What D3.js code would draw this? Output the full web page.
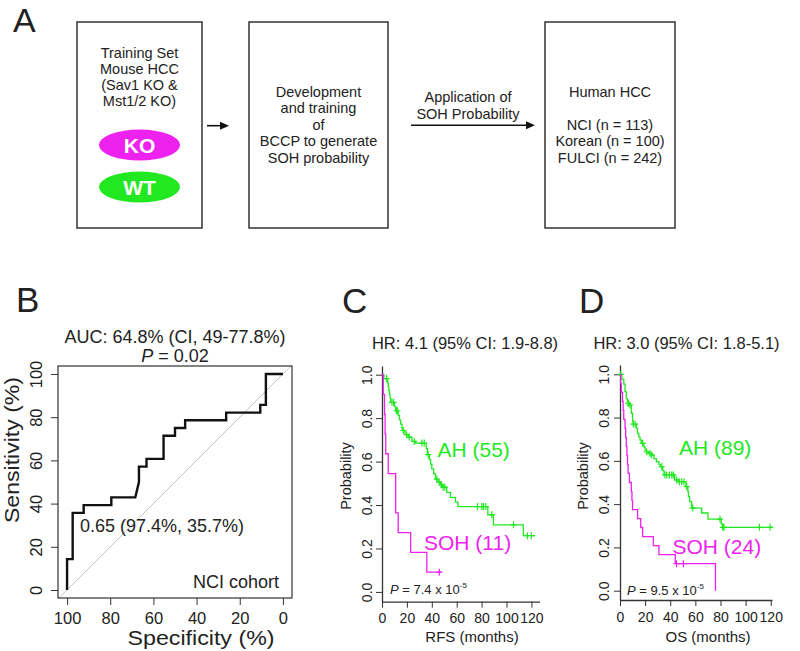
<!DOCTYPE html>
<html><head><meta charset="utf-8">
<script src="https://cdn.jsdelivr.net/npm/d3@7"></script>
<style>body{margin:0;background:#fff}svg{display:block;font-family:"Liberation Sans",Arial,Helvetica,sans-serif}</style>
</head><body><svg id="c" width="800" height="651"></svg>
<script>
// ---------- DATA ----------
const trainLines = ["Training Set","Mouse HCC","(Sav1 KO &","Mst1/2 KO)"];
const groupLabels = ["KO","WT"];
const devLines = ["Development","and training","of","BCCP to generate","SOH probability"];
const arrowLabel = ["Application of","SOH Probability"];
const humanLines = ["Human HCC","","NCI (n = 113)","Korean (n = 100)","FULCI (n = 242)"];

// ROC (specificity %, sensitivity %)
const rocSpec = [100,100,97.4,97.4,92.3,92.3,79.5,79.5,68.4,66.7,66.7,63.2,63.2,55.3,55.3,50,50,45.3,45.3,26.3,26.3,10.5,10.5,7.9,7.9,0];
const rocSens = [0,14.3,14.3,35.7,35.7,39.3,39.3,42.9,42.9,50,57.1,57.1,60.7,60.7,71.4,71.4,75,75,78.6,78.6,82.1,82.1,85.7,85.7,100,100];
const rocTicks = [100,80,60,40,20,0];
const rocTitle = "AUC: 64.8% (CI, 49-77.8%)";
const rocP = "0.02";
const rocCut = "0.65 (97.4%, 35.7%)";
const rocCohort = "NCI cohort";

// Kaplan-Meier: [time (months), survival after drop]
const rfsAH = [[0,1],[1.5,0.982],[4.5,0.964],[5,0.945],[5.5,0.927],[6,0.909],[6.5,0.891],[7,0.873],[10,0.854],[11,0.834],[13,0.813],[14,0.792],[15,0.772],[16,0.754],[16.5,0.743],[18.5,0.724],[21,0.713],[24,0.693],[27,0.685],[35.5,0.66],[36.5,0.632],[38,0.61],[39,0.588],[40,0.566],[41.5,0.543],[43,0.519],[45,0.505],[47,0.493],[48.5,0.482],[52,0.458],[55,0.435],[59,0.413],[61,0.393],[85,0.355],[89.5,0.309],[113.5,0.259]];
const rfsAHEnd = 123;
const rfsAHCens = [3.7,8,9.3,11.5,12.5,17.1,19.8,21.9,25.9,32,33.9,37.1,44,45.9,47.8,49.1,50.5,76.7,80.2,81.5,83.4,88.2,105.6,116.8,120];
const rfsSOH = [[0,1],[1,0.909],[2,0.818],[2.5,0.727],[3,0.636],[5,0.545],[11,0.364],[13,0.273],[23,0.182],[36,0.091]];
const rfsSOHEnd = 48;
const rfsSOHCens = [46];

const osAH = [[0,1],[1.5,0.978],[3,0.955],[4,0.92],[5,0.888],[6,0.866],[7.5,0.858],[9,0.82],[10,0.785],[10.5,0.77],[13,0.75],[14,0.727],[15,0.71],[16,0.696],[17,0.681],[19,0.665],[20,0.65],[21,0.642],[23,0.634],[25,0.627],[27,0.61],[29,0.596],[31,0.584],[32,0.573],[34,0.555],[35,0.535],[43.5,0.512],[46.5,0.504],[52.5,0.481],[54,0.458],[54.5,0.435],[55.5,0.412],[57,0.382],[65,0.359],[70,0.331],[80.5,0.31],[81.5,0.293]];
const osAHEnd = 122;
const osAHCens = [0.6,6.6,7.9,10.6,12,18,21.2,23.9,25.2,33.2,35.8,37.2,39.3,41.2,42.5,45.1,47.2,49.1,50.9,53.1,57.9,79.6,81.8,82.8,111,119.5];
const osSOH = [[0,1],[0.5,0.958],[1,0.917],[2,0.875],[2.5,0.833],[3,0.792],[4,0.75],[4.5,0.708],[5,0.667],[5.5,0.625],[6,0.583],[6.5,0.542],[7.5,0.5],[9,0.458],[9.5,0.417],[10,0.375],[14,0.333],[16.5,0.292],[18,0.25],[26.5,0.208],[31,0.167],[44,0.125],[76,0]];
const osSOHEnd = 76;
const osSOHCens = [45,50.5];

const kmXTicks = [0,20,40,60,80,100,120];
const kmYTicks = [0,0.2,0.4,0.6,0.8,1.0];
const hrC = "HR: 4.1 (95% CI: 1.9-8.8)";
const hrD = "HR: 3.0 (95% CI: 1.8-5.1)";
const pC = "7.4", pD = "9.5";
const labelsC = ["AH (55)","SOH (11)"];
const labelsD = ["AH (89)","SOH (24)"];

// ---------- DRAW ----------
const MAG = "#ee22ee", GRN = "#22e822", INK = "#222";
const svg = d3.select("#c");
svg.append("rect").attr("width",800).attr("height",651).attr("fill","#fff");

function txt(x,y,s,size,anchor,fill){
  return svg.append("text").attr("x",x).attr("y",y).attr("font-size",size)
    .attr("text-anchor",anchor||"start").attr("fill",fill||INK).text(s);
}
function lines(arr,cx,y0,dy,size){
  arr.forEach((s,i)=>{ if(s) txt(cx,y0+i*dy,s,size,"middle"); });
}

// panel letters
txt(13,32,"A",34); txt(16,312,"B",35); txt(342,313,"C",35); txt(579,313,"D",35);

// ---- Panel A ----
[[77,22,202,228],[249,22,388,228],[545,22,675,228]].forEach(b=>{
  svg.append("rect").attr("x",b[0]).attr("y",b[1]).attr("width",b[2]-b[0]).attr("height",b[3]-b[1])
    .attr("fill","none").attr("stroke","#333").attr("stroke-width",1.5);
});
lines(trainLines,139.5,57.5,16.3,14.5);
lines(devLines,318.5,97,16.4,14.5);
lines(humanLines,610,97,16.4,14.5);
lines(arrowLabel,468,102,16.5,14.5);
[[145,MAG],[187,GRN]].forEach((e,i)=>{
  svg.append("ellipse").attr("cx",139.5).attr("cy",e[0]).attr("rx",40.5).attr("ry",15.5).attr("fill",e[1]);
  txt(139.5,e[0]+7.5,groupLabels[i],21,"middle","#fff").attr("font-weight","bold");
});
function arrow(x0,x1,y){
  svg.append("line").attr("x1",x0).attr("x2",x1-6).attr("y1",y).attr("y2",y).attr("stroke","#111").attr("stroke-width",1.6);
  svg.append("path").attr("d",`M${x1},${y}L${x1-9},${y-4}L${x1-9},${y+4}Z`).attr("fill","#111");
}
arrow(207,229,125.7);
arrow(411,535,125.3);

// ---- Panel B ----
const bx = d3.scaleLinear().domain([104.2,-4.2]).range([58,292]);
const by = d3.scaleLinear().domain([-3.7,103.7]).range([598,366]);
svg.append("line").attr("x1",bx(103.7)).attr("y1",by(-3.7)).attr("x2",bx(-3.7)).attr("y2",by(103.7))
  .attr("stroke","#c4c4c4").attr("stroke-width",1);
svg.append("rect").attr("x",58).attr("y",366).attr("width",234).attr("height",232)
  .attr("fill","none").attr("stroke","#333").attr("stroke-width",1.2);
const gbx = svg.append("g").attr("transform","translate(0,598)")
  .call(d3.axisBottom(bx).tickValues(rocTicks).tickSize(7).tickFormat(d3.format("d")));
gbx.select(".domain").remove();
gbx.selectAll("text").attr("dy",null).attr("y",26).attr("font-size",16.5).attr("font-family",null).attr("fill",INK);
gbx.selectAll("line").attr("stroke","#333");
const gby = svg.append("g").attr("transform","translate(58,0)")
  .call(d3.axisLeft(by).tickValues(rocTicks).tickSize(7).tickFormat(d3.format("d")));
gby.select(".domain").remove();
gby.selectAll("text").attr("dy",null).attr("x",null).attr("text-anchor","middle")
  .attr("transform","translate(-16,0) rotate(-90)").attr("font-size",16.5).attr("font-family",null).attr("fill",INK);
gby.selectAll("line").attr("stroke","#333");
svg.append("path").datum(d3.range(rocSpec.length))
  .attr("d",d3.line().x(i=>bx(rocSpec[i])).y(i=>by(rocSens[i])))
  .attr("fill","none").attr("stroke","#111").attr("stroke-width",2.4);
txt(175,343,rocTitle,18,"middle");
const pt = txt(175,362,"",18,"middle");
pt.append("tspan").attr("font-style","italic").text("P");
pt.append("tspan").text(" = "+rocP);
txt(80,532,rocCut,18);
txt(279,588,rocCohort,18,"end");
txt(201,645,"Specificity (%)",19.5,"middle").attr("textLength",147).attr("lengthAdjust","spacingAndGlyphs");
svg.append("text").attr("transform","translate(19,450) rotate(-90)").attr("text-anchor","middle")
  .attr("font-size",19.5).attr("fill",INK).attr("textLength",146).attr("lengthAdjust","spacingAndGlyphs")
  .text("Sensitivity (%)");

// ---- Panels C & D ----
function survAt(steps,t){ let s=steps[0][1]; steps.forEach(d=>{ if(d[0]<=t) s=d[1]; }); return s; }
function km(o){
  const x = d3.scaleLinear().domain(o.xd).range(o.xr);
  const y = d3.scaleLinear().domain(o.yd).range(o.yr);
  const gl = svg.append("g").attr("transform",`translate(${o.xr[0]},0)`)
    .call(d3.axisLeft(y).tickValues(kmYTicks).tickSize(6).tickSizeOuter(0).tickFormat(d3.format(".1f")));
  gl.select(".domain").attr("stroke","#333").attr("stroke-width",1.3);
  gl.selectAll("line").attr("stroke","#333");
  gl.selectAll("text").attr("dy",null).attr("x",null).attr("text-anchor","middle")
    .attr("transform",`translate(${-o.ylabOff},0) rotate(-90)`).attr("font-size",14).attr("font-family",null).attr("fill",INK);
  const gb = svg.append("g").attr("transform",`translate(0,${o.yr[0]})`)
    .call(d3.axisBottom(x).tickValues(kmXTicks).tickSize(6).tickSizeOuter(0));
  gb.select(".domain").attr("stroke","#333").attr("stroke-width",1.3);
  gb.selectAll("line").attr("stroke","#333");
  gb.selectAll("text").attr("dy",null).attr("y",21.5).attr("font-size",14).attr("font-family",null).attr("fill",INK);
  const ln = d3.line().curve(d3.curveStepAfter).x(d=>x(d[0])).y(d=>y(d[1]));
  o.series.forEach(s=>{
    const pts = s.steps.concat([[s.end, s.steps[s.steps.length-1][1]]]);
    svg.append("path").datum(pts).attr("d",ln).attr("fill","none").attr("stroke",s.color).attr("stroke-width",1.3);
    svg.append("path").attr("d", s.cens.map(t=>{const cx=x(t), cy=y(survAt(s.steps,t));
        return `M${cx-3},${cy}H${cx+3}M${cx},${cy-3.5}V${cy+3.5}`;}).join(""))
      .attr("stroke",s.color).attr("stroke-width",1.2).attr("fill","none");
  });
  txt(o.hr[0],o.hr[1],o.hrText,16.5,"middle");
  o.labels.forEach(l=>txt(l.x,l.y,l.t,21,"start",l.c));
  const p = txt(o.p[0],o.p[1],"",13);
  p.append("tspan").attr("font-style","italic").text("P");
  p.append("tspan").text(" = "+o.pText+" x 10");
  p.append("tspan").attr("font-size",8).attr("dy",-6).text("-5");
  txt(o.xlab[0],o.xlab[1],o.xlabText,15,"middle");
  svg.append("text").attr("transform",`translate(${o.ylab[0]},${o.ylab[1]}) rotate(-90)`).attr("text-anchor","middle")
    .attr("font-size",14.5).attr("fill",INK).text("Probability");
}
km({xd:[0,126.5],xr:[382,539.5],yd:[-0.045,1.04],yr:[601.7,366],ylabOff:10,
  series:[{steps:rfsAH,end:rfsAHEnd,cens:rfsAHCens,color:GRN},{steps:rfsSOH,end:rfsSOHEnd,cens:rfsSOHCens,color:MAG}],
  hr:[465,349],hrText:hrC,
  labels:[{x:437.5,y:456.5,t:labelsC[0],c:GRN},{x:424,y:550,t:labelsC[1],c:MAG}],
  p:[390,593.5],pText:pC,xlab:[472,642],xlabText:"RFS (months)",ylab:[351,476]});
km({xd:[0,121],xr:[620,772],yd:[-0.043,1.043],yr:[600,365],ylabOff:11,
  series:[{steps:osAH,end:osAHEnd,cens:osAHCens,color:GRN},{steps:osSOH,end:osSOHEnd,cens:osSOHCens,color:MAG}],
  hr:[686.5,349],hrText:hrD,
  labels:[{x:679,y:455,t:labelsD[0],c:GRN},{x:672.5,y:553.5,t:labelsD[1],c:MAG}],
  p:[627,594.5],pText:pD,xlab:[708,642],xlabText:"OS (months)",ylab:[588,476]});
</script></body></html>
